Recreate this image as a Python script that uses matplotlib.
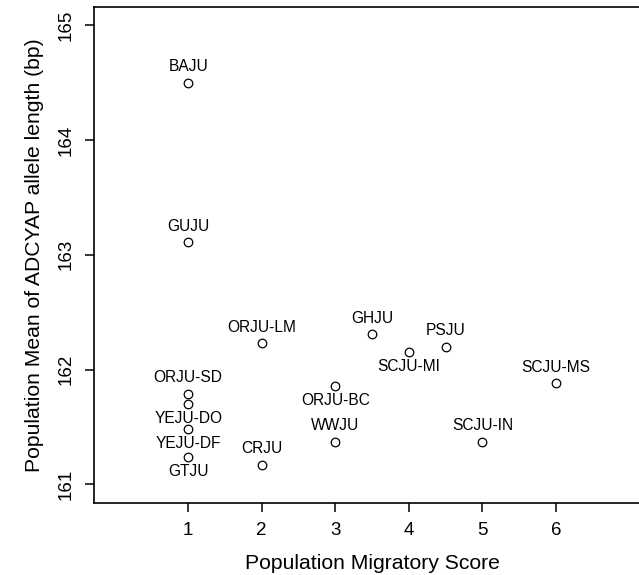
import matplotlib
matplotlib.use("Agg")
import matplotlib.pyplot as plt

plt.rcParams['font.family'] = ['Liberation Sans', 'DejaVu Sans']

# population labels, migratory score and mean allele length (bp)
pops = ['BAJU', 'GUJU', 'ORJU-LM', 'ORJU-SD', 'YEJU-DO', 'YEJU-DF', 'GTJU',
        'CRJU', 'ORJU-BC', 'WWJU', 'GHJU', 'SCJU-MI', 'PSJU', 'SCJU-IN', 'SCJU-MS']
score = [1, 1, 2, 1, 1, 1, 1, 2, 3, 3, 3.5, 4, 4.5, 5, 6]
mean_len = [164.50, 163.11, 162.23, 161.79, 161.70, 161.48, 161.24,
            161.17, 161.86, 161.37, 162.31, 162.15, 162.20, 161.37, 161.88]
# labels written under the point instead of above it
below = ['YEJU-DO', 'YEJU-DF', 'GTJU', 'ORJU-BC', 'SCJU-MI']

fig = plt.figure(figsize=(6.39, 5.75), dpi=100)
ax = fig.add_axes([94 / 639, 1 - 502.7 / 575, 556 / 639, 495.7 / 575])

ax.scatter(score, mean_len, s=38, facecolors='white', edgecolors='black',
           linewidths=0.9, zorder=3)

for name, x, y in zip(pops, score, mean_len):
    dy = -10.5 if name in below else 11.5
    ax.annotate(name, (x, y), xytext=(0, dy), textcoords='offset points',
                ha='center', va='center', fontsize=11.2)

# R style axis ranges (4% padding)
ax.set_xlim(0 - 0.28, 7 + 0.28)
ax.set_ylim(161 - 0.16, 165 + 0.16)
ax.set_xticks([1, 2, 3, 4, 5, 6])
ax.set_yticks([161, 162, 163, 164, 165])
ax.set_yticklabels(['161', '162', '163', '164', '165'], rotation=90, va='center')

ax.spines['right'].set_visible(False)
for s in ['left', 'top', 'bottom']:
    ax.spines[s].set_linewidth(1.2)
ax.tick_params(direction='out', length=6.5, width=1.1, labelsize=13.5, pad=7.5)

ax.set_xlabel('Population Migratory Score', fontsize=15.2, labelpad=11)
ax.set_ylabel('Population Mean of ADCYAP allele length (bp)', fontsize=15.2, labelpad=10)

fig.savefig('out.png', dpi=100)
